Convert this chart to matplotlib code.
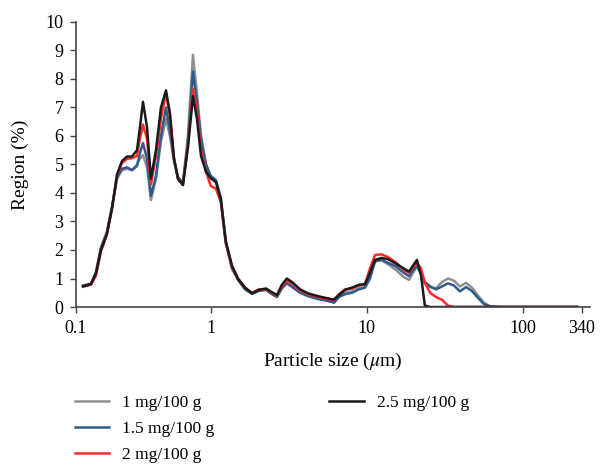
import matplotlib
matplotlib.use("Agg")
import matplotlib.pyplot as plt
from matplotlib.lines import Line2D

plt.rcParams['font.family'] = ['Liberation Serif', 'DejaVu Serif']
plt.rcParams['mathtext.fontset'] = 'stix'

# particle size (um)
size = [0.152, 0.171, 0.184, 0.198, 0.216, 0.233, 0.251, 0.270, 0.291, 0.313,
        0.337, 0.352, 0.368, 0.391, 0.414, 0.446, 0.480, 0.517, 0.548, 0.582,
        0.617, 0.664, 0.715, 0.770, 0.817, 0.867, 0.933, 1.00, 1.08, 1.16,
        1.25, 1.37, 1.50, 1.66, 1.84, 2.04, 2.26, 2.47, 2.66, 2.86,
        3.08, 3.37, 3.74, 4.20, 4.87, 5.65, 6.17, 6.65, 7.26, 8.05,
        8.93, 9.75, 10.5, 11.3, 12.4, 13.7, 15.4, 17.3, 18.7, 19.8,
        21.0, 22.3, 23.6, 25.5, 27.8, 30.4, 33.2, 36.3, 39.6, 43.3,
        47.3, 51.7, 56.5, 61.7, 71.5, 96.1, 150, 223]

c1 = [0.76, 0.82, 1.25, 2.1, 2.65, 3.5, 4.5, 4.8, 4.85, 4.8,
      5.0, 5.2, 5.33, 4.9, 3.75, 4.5, 5.8, 6.6, 6.0, 5.1,
      4.55, 4.35, 6.0, 8.85, 7.5, 6.0, 5.0, 4.6, 4.45, 3.85,
      2.3, 1.35, 0.95, 0.63, 0.47, 0.58, 0.6, 0.47, 0.37, 0.68,
      0.86, 0.72, 0.53, 0.4, 0.3, 0.23, 0.18, 0.38, 0.5, 0.55,
      0.66, 0.7, 1.05, 1.6, 1.65, 1.5, 1.3, 1.05, 0.95, 1.2,
      1.42, 1.15, 0.82, 0.7, 0.65, 0.88, 1.0, 0.92, 0.72, 0.85,
      0.68, 0.4, 0.15, 0.03, 0, 0, 0, 0]

c15 = [0.74, 0.8, 1.2, 2.05, 2.6, 3.5, 4.55, 4.85, 4.9, 4.8,
       4.95, 5.4, 5.75, 5.2, 3.9, 4.6, 6.0, 7.0, 6.2, 5.2,
       4.55, 4.35, 5.8, 8.26, 7.2, 5.9, 5.0, 4.6, 4.45, 3.8,
       2.25, 1.35, 0.95, 0.62, 0.46, 0.57, 0.6, 0.45, 0.35, 0.65,
       0.83, 0.68, 0.5, 0.38, 0.28, 0.21, 0.15, 0.35, 0.45, 0.5,
       0.62, 0.68, 1.0, 1.6, 1.66, 1.55, 1.42, 1.2, 1.08, 1.28,
       1.45, 1.2, 0.88, 0.72, 0.62, 0.72, 0.83, 0.75, 0.55, 0.7,
       0.56, 0.32, 0.1, 0.02, 0, 0, 0, 0]

c2 = [0.72, 0.78, 1.1, 1.95, 2.55, 3.45, 4.6, 5.05, 5.2, 5.22,
      5.3, 5.9, 6.4, 5.9, 4.3, 5.3, 6.6, 7.5, 6.7, 5.2,
      4.5, 4.28, 5.7, 7.65, 6.9, 5.5, 4.75, 4.25, 4.15, 3.7,
      2.25, 1.4, 1.0, 0.68, 0.5, 0.62, 0.62, 0.5, 0.4, 0.72,
      0.93, 0.8, 0.58, 0.45, 0.35, 0.28, 0.25, 0.45, 0.62, 0.65,
      0.75, 0.8, 1.35, 1.82, 1.85, 1.75, 1.56, 1.3, 1.2, 1.4,
      1.55, 1.35, 0.85, 0.5, 0.35, 0.25, 0.05, 0, 0, 0,
      0, 0, 0, 0, 0, 0, 0, 0]

c25 = [0.72, 0.81, 1.18, 2.0, 2.55, 3.45, 4.65, 5.12, 5.28, 5.28,
       5.5, 6.3, 7.2, 6.3, 4.5, 5.5, 7.0, 7.6, 6.8, 5.2,
       4.5, 4.28, 5.6, 7.4, 6.6, 5.3, 4.75, 4.52, 4.38, 3.8,
       2.3, 1.45, 0.98, 0.68, 0.48, 0.6, 0.65, 0.52, 0.42, 0.78,
       1.0, 0.85, 0.62, 0.48, 0.38, 0.3, 0.26, 0.42, 0.6, 0.68,
       0.78, 0.8, 1.2, 1.65, 1.72, 1.68, 1.52, 1.35, 1.24, 1.45,
       1.65, 1.1, 0.05, 0, 0, 0, 0, 0, 0, 0,
       0, 0, 0, 0, 0, 0, 0, 0]

labels = ['1 mg/100 g', '1.5 mg/100 g', '2 mg/100 g', '2.5 mg/100 g']
colors = ['#8f8f8f', '#2f5b8c', '#ff2a2a', '#1a1a1a']

xticks = [0.137, 1, 10, 100, 239]
xticklabels = ['0.1', '1', '10', '100', '340']
yticks = list(range(0, 11))

fig = plt.figure(figsize=(6.07, 4.66), dpi=100)
ax = fig.add_axes([0.1252, 0.3412, 0.8468, 0.6116])

for y, lab, col in zip([c1, c15, c2, c25], labels, colors):
    ax.plot(size, y, color=col, lw=1.8, label=lab, solid_joinstyle='round')

ax.set_xscale('log')
ax.set_xlim(0.137, 270)
ax.set_ylim(0, 10)
ax.set_xticks(xticks)
ax.set_xticklabels(xticklabels)
ax.minorticks_off()
ax.set_yticks(yticks)
ax.tick_params(labelsize=13, direction='out', length=4, width=1, color='#444444', pad=5)
ax.spines['top'].set_visible(False)
ax.spines['right'].set_visible(False)
for s in ['left', 'bottom']:
    ax.spines[s].set_color('#444444')
    ax.spines[s].set_linewidth(1.2)

ax.set_xlabel(r'Particle size ($\mu$m)', fontsize=14, labelpad=10)
ax.set_ylabel('Region (%)', fontsize=14, labelpad=12)

h = [Line2D([], [], color=c, lw=1.8) for c in colors]
leg_opts = dict(loc='upper left', frameon=False, fontsize=12.5, handlelength=2.0,
                handletextpad=0.75, labelspacing=0.55, borderpad=0, borderaxespad=0)
fig.legend(h[:3], labels[:3], bbox_to_anchor=(0.123, 0.152), **leg_opts)
fig.legend(h[3:], labels[3:], bbox_to_anchor=(0.542, 0.152), **leg_opts)

fig.savefig('out.png', dpi=100)
